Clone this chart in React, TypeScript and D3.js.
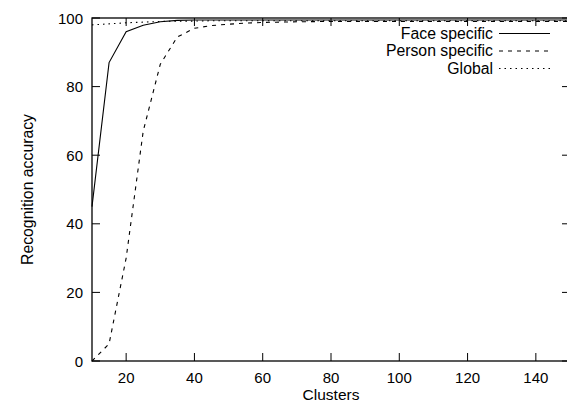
import React, { useEffect, useRef } from 'react';
import * as d3 from 'd3';

// cluster counts on the x axis
const clusters = [10, 15, 20, 25, 30, 35, 40, 45, 50, 55, 60, 70, 80, 90, 100, 110, 120, 130, 140, 150];

// recognition accuracy per method
const faceSpecific = [45, 87, 96, 97.9, 98.9, 99.3, 99.4, 99.4, 99.4, 99.4, 99.4, 99.4, 99.4, 99.4, 99.4, 99.4, 99.4, 99.4, 99.4, 99.4];
const personSpecific = [0, 5, 30, 67, 86.5, 94.5, 97, 97.8, 98.2, 98.5, 98.7, 98.9, 99, 99, 99, 99, 99, 99, 99, 99];
const globalAcc = [98, 98.3, 98.6, 98.8, 99, 99.1, 99.1, 99.2, 99.2, 99.2, 99.2, 99.2, 99.2, 99.2, 99.2, 99.2, 99.2, 99.2, 99.2, 99.2];

const xTicks = [20, 40, 60, 80, 100, 120, 140];
const yTicks = [0, 20, 40, 60, 80, 100];

const seriesNames = ['Face specific', 'Person specific', 'Global'];
const seriesDash = ['none', '4,5', '1.5,4'];

const App = () => {
  const svgRef = useRef<SVGSVGElement>(null);

  useEffect(() => {
    const width = 567;
    const height = 410;
    const margin = { top: 18, right: -3, bottom: 49, left: 92 };
    const font = 'Liberation Sans, Arial, Helvetica, sans-serif';

    const svg = d3.select(svgRef.current);
    svg.selectAll('*').remove();
    svg.attr('width', width).attr('height', height);

    svg.append('rect').attr('width', width).attr('height', height).attr('fill', '#fff');

    const x = d3.scaleLinear().domain([10, 150]).range([margin.left, width - margin.right]);
    const y = d3.scaleLinear().domain([0, 100]).range([height - margin.bottom, margin.top]);

    const g = svg.append('g').attr('font-family', font).attr('fill', '#000');

    // ticks (inward, mirrored)
    const tickLen = 8;
    xTicks.forEach(t => {
      g.append('line').attr('x1', x(t)).attr('x2', x(t)).attr('y1', y(0)).attr('y2', y(0) - tickLen).attr('stroke', '#000');
      g.append('line').attr('x1', x(t)).attr('x2', x(t)).attr('y1', y(100)).attr('y2', y(100) + tickLen).attr('stroke', '#000');
      g.append('text').attr('x', x(t)).attr('y', y(0) + 21.5).attr('text-anchor', 'middle').attr('font-size', 15).text(t);
    });
    yTicks.forEach(t => {
      g.append('line').attr('x1', x(10)).attr('x2', x(10) + tickLen).attr('y1', y(t)).attr('y2', y(t)).attr('stroke', '#000');
      g.append('line').attr('x1', x(150)).attr('x2', x(150) - tickLen).attr('y1', y(t)).attr('y2', y(t)).attr('stroke', '#000');
      g.append('text').attr('x', x(10) - 9).attr('y', y(t) + 5.5).attr('text-anchor', 'end').attr('font-size', 15).text(t);
    });

    // frame
    g.append('rect')
      .attr('x', x(10)).attr('y', y(100))
      .attr('width', x(150) - x(10)).attr('height', y(0) - y(100))
      .attr('fill', 'none').attr('stroke', '#000').attr('stroke-width', 1.3);

    // lines
    const line = d3.line<number>().x((d, i) => x(clusters[i])).y(d => y(d));
    [faceSpecific, personSpecific, globalAcc].forEach((vals, k) => {
      g.append('path')
        .attr('d', line(vals))
        .attr('fill', 'none')
        .attr('stroke', '#000')
        .attr('stroke-width', 1.1)
        .attr('stroke-dasharray', seriesDash[k]);
    });

    // legend
    seriesNames.forEach((name, k) => {
      const ly = 33.5 + k * 17.5;
      g.append('text').attr('x', 493).attr('y', ly + 5).attr('text-anchor', 'end').attr('font-size', 15.8).text(name);
      g.append('line').attr('x1', 499).attr('x2', 550).attr('y1', ly).attr('y2', ly)
        .attr('stroke', '#000').attr('stroke-width', 1.1).attr('stroke-dasharray', seriesDash[k]);
    });

    // axis titles
    g.append('text').attr('x', (x(10) + x(150)) / 2).attr('y', 400).attr('text-anchor', 'middle').attr('font-size', 15.5).text('Clusters');
    g.append('text')
      .attr('transform', `translate(33,${(y(0) + y(100)) / 2}) rotate(-90)`)
      .attr('text-anchor', 'middle').attr('font-size', 15.8).text('Recognition accuracy');
  }, []);

  return (
    <svg ref={svgRef} style={{ position: 'absolute', left: 0, top: 0, display: 'block' }}></svg>
  );
};

export default App;
